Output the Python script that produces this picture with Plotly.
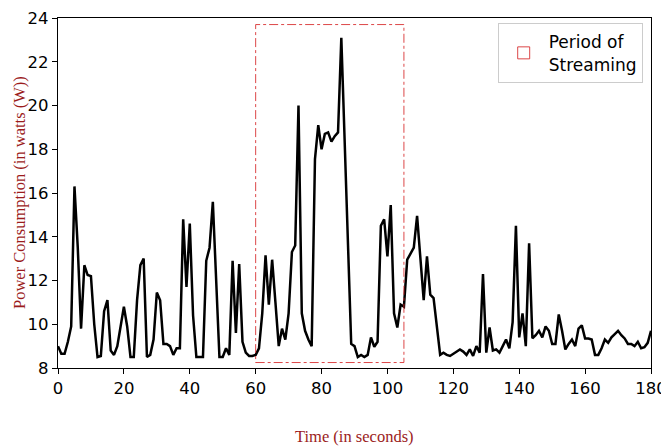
import plotly.graph_objects as go

time_s = list(range(0, 181))
power_w = [
    9.0, 8.65, 8.65, 9.2, 9.9, 16.3, 13.5, 9.8, 12.7, 12.25,
    12.2, 10.0, 8.5, 8.55, 10.6, 11.1, 8.8, 8.6, 9.0, 10.0,
    10.8, 9.9, 8.5, 8.5, 11.1, 12.7, 13.0, 8.5, 8.6, 9.3,
    11.45, 11.1, 9.1, 9.1, 9.0, 8.6, 8.9, 8.9, 14.8, 11.7,
    14.6, 10.4, 8.5, 8.5, 8.5, 12.9, 13.5, 15.6, 11.8, 8.5,
    8.5, 8.9, 8.6, 12.9, 9.6, 12.75, 9.2, 8.7, 8.55, 8.55,
    8.6, 8.9, 10.5, 13.15, 10.9, 12.95, 11.0, 9.0, 9.8, 9.3,
    10.5, 13.3, 13.6, 20.0, 10.5, 9.7, 9.3, 9.0, 17.55, 19.1,
    18.0, 18.7, 18.77, 18.35, 18.6, 18.77, 23.1, 18.4, 13.7, 9.1,
    9.0, 8.5, 8.6, 8.5, 8.6, 9.4, 8.97, 9.2, 14.5, 14.8,
    13.1, 15.45, 10.5, 9.85, 10.9, 10.8, 12.95, 13.2, 13.5, 14.95,
    13.0, 11.1, 13.1, 11.35, 11.2, 9.8, 8.6, 8.7, 8.6, 8.55,
    8.65, 8.75, 8.85, 8.75, 8.6, 8.85, 8.55, 9.0, 8.7, 12.3,
    8.7, 9.85, 8.8, 8.85, 8.7, 9.0, 9.3, 8.9, 10.1, 14.5,
    9.4, 10.5, 9.0, 13.7, 9.36, 9.5, 9.7, 9.4, 9.9, 9.7,
    9.1, 9.1, 10.45, 9.7, 8.85, 9.1, 9.3, 9.0, 9.8, 9.95,
    9.35, 9.35, 9.3, 8.6, 8.6, 8.9, 9.3, 9.15, 9.4, 9.55,
    9.7, 9.5, 9.35, 9.1, 9.1, 9.0, 9.2, 8.9, 8.95, 9.15,
    9.7,
]

x_ticks = [0, 20, 40, 60, 80, 100, 120, 140, 160, 180]
y_ticks = [8, 10, 12, 14, 16, 18, 20, 22, 24]

stream_start, stream_end = 60, 105
stream_low, stream_high = 8.25, 23.7
legend_label = "Period of<br>Streaming"
x_title = "Time (in seconds)"
y_title = "Power Consumption (in watts (W))"

title_color = "#9b1c1c"
serif = "Liberation Serif, Times New Roman, serif"
sans = "DejaVu Sans, sans-serif"

fig = go.Figure()
fig.add_trace(go.Scatter(
    x=time_s, y=power_w, mode="lines",
    line=dict(color="black", width=2.5),
    showlegend=False, hoverinfo="skip",
))

fig.add_shape(
    type="rect", xref="x", yref="y",
    x0=stream_start, x1=stream_end, y0=stream_low, y1=stream_high,
    line=dict(color="rgba(214,39,40,0.85)", width=1, dash="dashdot"),
    fillcolor="rgba(0,0,0,0)",
    showlegend=True, name=legend_label,
)

axis_common = dict(
    showline=True, linecolor="black", linewidth=1.2, mirror=True,
    ticks="outside", ticklen=5, tickwidth=1.2, tickcolor="black",
    showgrid=False, zeroline=False, ticklabeloverflow="allow",
    tickfont=dict(family=sans, size=16.5, color="black"),
)

fig.update_xaxes(range=[0, 180], tickvals=x_ticks, **axis_common)
fig.update_yaxes(range=[8, 24], tickvals=y_ticks, **axis_common)

fig.add_annotation(
    text=x_title, xref="paper", yref="paper", x=0.5, y=0,
    xanchor="center", yanchor="middle", yshift=-68, showarrow=False,
    font=dict(family=serif, size=16.5, color=title_color),
)
fig.add_annotation(
    text=y_title, xref="paper", yref="paper", x=0, y=0.5,
    xanchor="center", yanchor="middle", xshift=-39, textangle=-90, showarrow=False,
    font=dict(family=serif, size=16.5, color=title_color),
)

fig.update_layout(
    width=661, height=438,
    margin=dict(l=50, r=18, t=10, b=78, autoexpand=False),
    paper_bgcolor="white", plot_bgcolor="white",
    legend=dict(
        x=0.986, y=0.985, xanchor="right", yanchor="top",
        bgcolor="rgba(255,255,255,0.9)", bordercolor="#cccccc", borderwidth=1,
        font=dict(family=sans, size=17, color="black"),
        itemwidth=40,
    ),
)

fig.write_html("out.html")
